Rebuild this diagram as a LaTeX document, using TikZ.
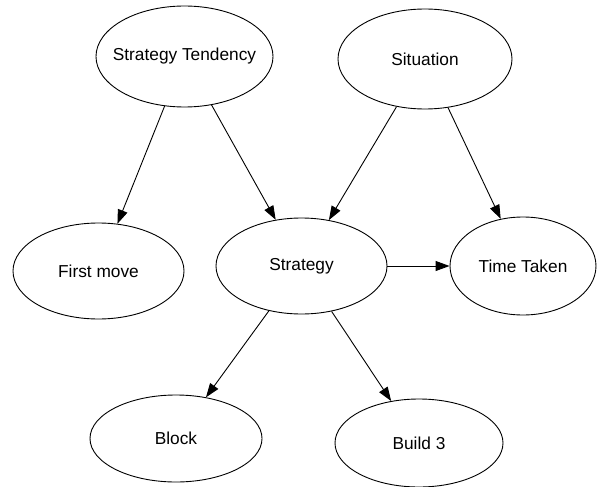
\documentclass[tikz,border=0pt]{standalone}
\usepackage{fontspec}
\setmainfont{Liberation Sans}
\usetikzlibrary{shapes.geometric,arrows.meta}
\tikzset{
  bubble/.style={ellipse, draw=black, line width=0.9pt, inner sep=0pt,
    label={[font=\fontsize{17.3}{20}\selectfont]center:#1}},
  link/.style={draw=black, line width=0.9pt, -{Triangle[length=14pt,width=10pt]}}
}
\begin{document}
\begin{tikzpicture}[x=1pt,y=-1pt]
            \useasboundingbox (0,0) rectangle (597,487);
            % top row
            \node[bubble={Strategy Tendency}, minimum width=177pt, minimum height=101pt] (tendency) at (184.5,56.5) {};
            \node[bubble={Situation}, minimum width=174pt, minimum height=100pt] (situation) at (425,59) {};
            % middle row
            \node[bubble={First move}, minimum width=171pt, minimum height=96pt] (firstmove) at (98.5,271) {};
            \node[bubble={Strategy}, minimum width=171pt, minimum height=96pt] (strategy) at (301.5,266) {};
            \node[bubble={Time Taken}, minimum width=146pt, minimum height=98pt] (timetaken) at (523,266) {};
            % bottom row
            \node[bubble={Block}, minimum width=172pt, minimum height=87pt] (block) at (176,438.5) {};
            \node[bubble={Build 3}, minimum width=168pt, minimum height=88pt] (build) at (419,443) {};
            % arrows
            \draw[link] (tendency) -- (firstmove);
            \draw[link] (tendency) -- (strategy);
            \draw[link] (situation) -- (strategy);
            \draw[link] (situation) -- (timetaken);
            \draw[link] (strategy) -- (timetaken);
            \draw[link] (strategy) -- (block);
            \draw[link] (strategy) -- (build);
          \end{tikzpicture}
\end{document}
